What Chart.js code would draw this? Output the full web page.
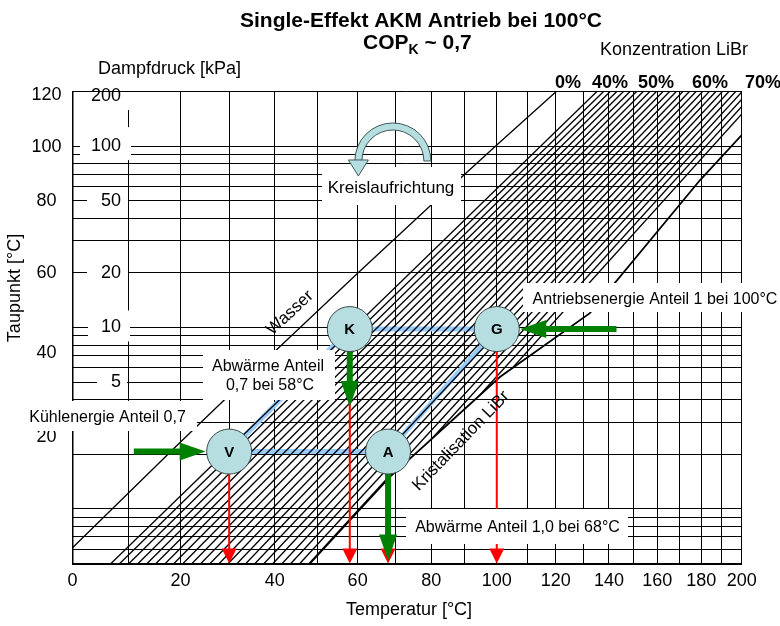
<!DOCTYPE html>
<html>
<head>
<meta charset="utf-8">
<title>Single-Effekt AKM</title>
<script src="https://cdn.jsdelivr.net/npm/chart.js@4.4.1/dist/chart.umd.min.js"></script>
<style>
  html, body { margin: 0; padding: 0; background: #fff; }
  #wrap { width: 780px; height: 626px; }
</style>
</head>
<body>
<div id="wrap"><canvas id="duehring" width="780" height="626"></canvas></div>
<script>
// Dühring-Diagramm LiBr/Wasser: Temperatur (1/T-Teilung) gegen Dampfdruck (log)

const tempGrid = [0, 10, 20, 30, 40, 50, 60, 70, 80, 90, 100, 110, 120, 130, 140, 150, 160, 170, 180, 190, 200];
const tempTicks = [0, 20, 40, 60, 80, 100, 120, 140, 160, 180, 200];

const pressureGrid = [0.5, 0.6, 0.7, 0.8, 0.9, 1, 2, 3, 4, 5, 6, 7, 8, 9, 10, 20, 30, 40, 50, 60, 70, 80, 90, 100, 200];
const pressureLabels = [200, 100, 50, 20, 10, 5];

const dewPointTicks = [120, 100, 80, 60, 40, 20];
const dewPointPressure = [191, 99, 50, 20, 7.25, 2.5];

// Wasser (Sattdampf)
const waterT = [0, 20, 40, 60, 80, 100, 120.2];
const waterP = [0.611, 2.34, 7.38, 19.9, 47.4, 101.3, 200];

// LiBr-Konzentrationslinien: Temperatur bei 0,5 kPa und bei 200 kPa
const hatchBottomT = [6.8, 8.4, 10.1, 11.8, 13.5, 15.2, 17.0, 18.7, 20.5, 22.3, 24.1, 26.0, 27.9,
                      29.8, 31.7, 33.6, 35.6, 37.6, 39.6, 41.7, 43.7, 45.8, 48.0, 50.1, 52.3, 54.5];
const hatchTopT = [135.3, 137.9, 140.5, 143.1, 145.8, 148.5, 151.2, 154.0, 156.8, 159.6, 162.5, 165.4, 168.4,
                   171.4, 174.4, 177.5, 180.6, 183.8, 187.0, 190.2, 193.5, 196.9, 200.3, 203.7, 207.2, 210.8];

// Kristallisationsgrenze
const crystalT = [48.2, 68.5, 101, 132.6, 179.4, 200];
const crystalP = [0.5, 1.5, 5.33, 12.0, 65, 115];

// Kreisprozess: Kondensator, Generator, Absorber, Verdampfer
const cycleNames = ['K', 'G', 'A', 'V'];
const cycleT = [58, 100, 68, 30];
const cycleP = [9.8, 9.8, 2.07, 2.07];

// Energieflüsse (grüne Pfeile)
const flowFromT = [143, 58, 68, 11];
const flowFromP = [9.8, 9.8, 2.07, 2.07];
const flowToT = [100, 58, 68, 30];
const flowToP = [9.8, 3.65, 0.52, 2.07];

const concLabels = ['0%', '40%', '50%', '60%', '70%'];

const FONT = "'Liberation Sans', Arial, Helvetica, sans-serif";
const CIRCLE_R = 22.5;

// Temperaturachse mit 1/T-Teilung
const invT = t => -1 / (t + 273.15);

class DuehringScale extends Chart.LinearScale {
    getPixelForValue(value) {
        const a = invT(this.min), b = invT(this.max);
        return this.getPixelForDecimal((invT(value) - a) / (b - a));
    }
    getValueForPixel(pixel) {
        const a = invT(this.min), b = invT(this.max);
        const u = a + this.getDecimalForPixel(pixel) * (b - a);
        return -1 / u - 273.15;
    }
}
DuehringScale.id = 'duehring';
DuehringScale.defaults = {};
Chart.register(DuehringScale);

function drawArrow(ctx, x0, y0, x1, y1, width, headLen, headW, color) {
    const len = Math.hypot(x1 - x0, y1 - y0);
    const ux = (x1 - x0) / len, uy = (y1 - y0) / len;
    const bx = x1 - ux * headLen, by = y1 - uy * headLen;
    ctx.save();
    ctx.strokeStyle = color;
    ctx.fillStyle = color;
    ctx.lineWidth = width;
    ctx.beginPath();
    ctx.moveTo(x0, y0);
    ctx.lineTo(bx + ux, by + uy);
    ctx.stroke();
    ctx.beginPath();
    ctx.moveTo(x1, y1);
    ctx.lineTo(bx - uy * headW / 2, by + ux * headW / 2);
    ctx.lineTo(bx + uy * headW / 2, by - ux * headW / 2);
    ctx.closePath();
    ctx.fill();
    ctx.restore();
}

function whiteBox(ctx, x0, y0, x1, y1) {
    ctx.fillStyle = '#fff';
    ctx.fillRect(x0, y0, x1 - x0, y1 - y0);
}

function label(ctx, str, x, y, size, opts = {}) {
    ctx.save();
    ctx.font = (opts.bold ? 'bold ' : '') + size + 'px ' + FONT;
    ctx.fillStyle = '#000';
    ctx.textAlign = opts.align || 'center';
    ctx.textBaseline = opts.baseline || 'middle';
    ctx.translate(x, y);
    if (opts.rotate) ctx.rotate(opts.rotate * Math.PI / 180);
    ctx.fillText(str, 0, 0);
    ctx.restore();
}

// Schraffur nur oberhalb der Kristallisationsgrenze
const crystalClip = {
    id: 'crystalClip',
    beforeDatasetDraw(chart, args) {
        if (!chart.data.datasets[args.index].clipCrystal) return;
        const {ctx, chartArea: a, scales: {x, y}} = chart;
        ctx.save();
        ctx.beginPath();
        crystalT.forEach((t, i) => {
            const px = x.getPixelForValue(t), py = y.getPixelForValue(crystalP[i]);
            if (i === 0) {
                ctx.moveTo(px, a.bottom + 5);
                ctx.lineTo(px, py);
            } else {
                ctx.lineTo(px, py);
            }
        });
        ctx.lineTo(a.right + 5, a.top - 5);
        ctx.lineTo(a.left - 5, a.top - 5);
        ctx.lineTo(a.left - 5, a.bottom + 5);
        ctx.closePath();
        ctx.clip();
    },
    afterDatasetDraw(chart, args) {
        if (chart.data.datasets[args.index].clipCrystal) chart.ctx.restore();
    }
};

const annotations = {
    id: 'annotations',
    beforeDraw(chart) {
        const ctx = chart.ctx;
        ctx.save();
        ctx.fillStyle = '#fff';
        ctx.fillRect(0, 0, chart.width, chart.height);
        ctx.restore();
    },
    afterDatasetsDraw(chart) {
        const {ctx, chartArea: a, scales: {x, y}} = chart;
        const px = t => x.getPixelForValue(t);
        const py = p => y.getPixelForValue(p);

        // Wärmeabgabe-/Temperaturlinien nach unten
        cycleT.forEach((t, i) => {
            drawArrow(ctx, px(t), py(cycleP[i]), px(t), py(0.5), 2, 15, 15, '#ff0000');
        });

        // Druckbeschriftung im Diagramm
        const pBoxes = {200: [80, -4, 131, 14], 100: [80, -19, 131, 14], 50: [87, -10, 128, 10],
                        20: [87, -12, 128, 11], 10: [88, -17, 130, 14], 5: [97, -10, 127, 10]};
        pressureLabels.forEach(p => {
            const yc = Math.max(py(p), a.top + 4.5);
            const b = pBoxes[p];
            whiteBox(ctx, b[0], yc + b[1], b[2], yc + b[3]);
            label(ctx, String(p), 121, yc, 18, {align: 'right'});
        });

        // Textfelder
        whiteBox(ctx, 322, 167, 461, 205);
        label(ctx, 'Kreislaufrichtung', 391, 188, 17);
        whiteBox(ctx, 523, 283, 780, 312);
        label(ctx, 'Antriebsenergie Anteil 1 bei 100°C', 655, 300, 16);
        whiteBox(ctx, 203, 350, 335, 400);
        label(ctx, 'Abwärme Anteil', 268, 367, 16);
        label(ctx, '0,7 bei 58°C', 270, 386, 16);
        whiteBox(ctx, 27, 401, 197, 431);
        label(ctx, 'Kühlenergie Anteil 0,7', 107.5, 418, 16);
        whiteBox(ctx, 406, 509, 628, 544);
        label(ctx, 'Abwärme Anteil 1,0 bei 68°C', 517.5, 528, 16);

        // Energieflüsse
        flowFromT.forEach((t, i) => {
            const x0 = px(t), y0 = py(flowFromP[i]);
            let x1 = px(flowToT[i]), y1 = py(flowToP[i]);
            const atCircle = cycleT.some((ct, j) => ct === flowToT[i] && cycleP[j] === flowToP[i]);
            if (atCircle) {
                const len = Math.hypot(x1 - x0, y1 - y0);
                x1 -= (x1 - x0) / len * (CIRCLE_R + 1);
                y1 -= (y1 - y0) / len * (CIRCLE_R + 1);
            }
            drawArrow(ctx, x0, y0, x1, y1, 6, 26, 18, '#008000');
        });

        // Zustandspunkte
        cycleT.forEach((t, i) => {
            const cx = px(t), cy = py(cycleP[i]);
            ctx.save();
            ctx.beginPath();
            ctx.arc(cx, cy, CIRCLE_R, 0, Math.PI * 2);
            ctx.fillStyle = '#b6dde0';
            ctx.fill();
            ctx.lineWidth = 1;
            ctx.strokeStyle = '#3c4a4a';
            ctx.stroke();
            ctx.restore();
            label(ctx, cycleNames[i], cx, cy + 1, 15, {bold: true});
        });

        // Pfeil Kreislaufrichtung
        const cx = px(69.3), cy = py(82.8);
        const ro = 38, ri = 31, rm = (ro + ri) / 2;
        ctx.save();
        ctx.beginPath();
        ctx.arc(cx, cy, ro, Math.PI, Math.PI * 2);
        ctx.lineTo(cx + ri, cy);
        ctx.arc(cx, cy, ri, Math.PI * 2, Math.PI, true);
        ctx.closePath();
        ctx.fillStyle = '#b6dde0';
        ctx.fill();
        ctx.strokeStyle = '#3c5a5a';
        ctx.lineWidth = 1;
        ctx.stroke();
        ctx.beginPath();
        ctx.moveTo(cx - rm - 10, cy - 1);
        ctx.lineTo(cx - rm + 10, cy - 1);
        ctx.lineTo(cx - rm, cy + 15);
        ctx.closePath();
        ctx.fill();
        ctx.stroke();
        ctx.restore();

        // Linienbeschriftungen
        label(ctx, 'Wasser', 290, 313, 17, {rotate: -43});
        label(ctx, 'Kristalisation LiBr', 461, 441, 17, {rotate: -46});
    },
    afterDraw(chart) {
        const ctx = chart.ctx;
        label(ctx, 'Single-Effekt AKM Antrieb bei 100°C', 421, 27, 21, {bold: true, baseline: 'alphabetic'});

        // COP mit Index K
        ctx.save();
        ctx.fillStyle = '#000';
        ctx.textBaseline = 'alphabetic';
        ctx.textAlign = 'left';
        ctx.font = 'bold 21px ' + FONT;
        let xx = 363;
        ctx.fillText('COP', xx, 49);
        xx += ctx.measureText('COP').width;
        ctx.font = 'bold 14px ' + FONT;
        ctx.fillText('K', xx, 54);
        xx += ctx.measureText('K').width;
        ctx.font = 'bold 21px ' + FONT;
        ctx.fillText(' ~ 0,7', xx, 49);
        ctx.restore();

        label(ctx, 'Dampfdruck [kPa]', 98, 74, 18, {align: 'left', baseline: 'alphabetic'});
        label(ctx, 'Konzentration LiBr', 600, 55, 18, {align: 'left', baseline: 'alphabetic'});
        const concX = [555, 592, 638, 692, 745];
        concLabels.forEach((s, i) => label(ctx, s, concX[i], 87.5, 18, {align: 'left', baseline: 'alphabetic', bold: true}));

        label(ctx, 'Temperatur [°C]', 409, 610, 18);
        label(ctx, 'Taupunkt [°C]', 15, 288, 18, {rotate: -90});
    }
};

const datasets = [];
hatchBottomT.forEach((tb, i) => {
    datasets.push({
        data: [{x: tb, y: 0.5}, {x: hatchTopT[i], y: 200}],
        borderColor: '#000',
        borderWidth: 1.3,
        clipCrystal: true
    });
});
datasets.push({
    data: waterT.map((t, i) => ({x: t, y: waterP[i]})),
    borderColor: '#000',
    borderWidth: 1.3
});
datasets.push({
    data: crystalT.map((t, i) => ({x: t, y: crystalP[i]})),
    borderColor: '#000',
    borderWidth: 1.8
});
const loop = [0, 1, 2, 3, 0];
datasets.push({
    data: loop.map(i => ({x: cycleT[i], y: cycleP[i]})),
    borderColor: '#99ccff',
    borderWidth: 5
});
datasets.forEach(d => { d.xAxisID = 'x'; d.yAxisID = 'y'; });

new Chart(document.getElementById('duehring'), {
    type: 'line',
    data: {datasets},
    options: {
        responsive: false,
        animation: false,
        devicePixelRatio: 1,
        events: [],
        layout: {padding: {top: 91.5, right: 38.3, bottom: 0, left: 0}},
        plugins: {
            legend: {display: false},
            tooltip: {enabled: false},
            title: {display: false}
        },
        elements: {
            point: {radius: 0},
            line: {tension: 0, fill: false}
        },
        scales: {
            y: {
                type: 'logarithmic',
                position: 'right',
                min: 0.5,
                max: 200,
                afterBuildTicks: s => { s.ticks = pressureGrid.map(v => ({value: v})); },
                ticks: {display: false},
                grid: {color: '#000', lineWidth: 1, drawTicks: false},
                border: {color: '#000', width: 1},
                afterFit: s => { s.width = 0; }
            },
            yT: {
                type: 'logarithmic',
                position: 'left',
                min: 0.5,
                max: 200,
                afterBuildTicks: s => { s.ticks = dewPointPressure.map(v => ({value: v})); },
                ticks: {
                    autoSkip: false,
                    crossAlign: 'center',
                    padding: 11,
                    color: '#000',
                    font: {family: FONT, size: 18},
                    callback: (v, i) => String(dewPointTicks[i])
                },
                grid: {display: false, drawTicks: false},
                border: {color: '#000', width: 1.5},
                afterFit: s => { s.width = 72.5; }
            },
            x: {
                type: 'duehring',
                min: 0,
                max: 200,
                afterBuildTicks: s => { s.ticks = tempGrid.map(v => ({value: v})); },
                ticks: {
                    autoSkip: false,
                    maxRotation: 0,
                    padding: 7,
                    color: '#000',
                    font: {family: FONT, size: 18},
                    callback: v => tempTicks.includes(v) ? String(v) : ''
                },
                grid: {color: '#000', lineWidth: 1, drawTicks: false},
                border: {color: '#000', width: 2},
                afterFit: s => { s.height = 62.5; }
            }
        }
    },
    plugins: [crystalClip, annotations]
});
</script>
</body>
</html>
